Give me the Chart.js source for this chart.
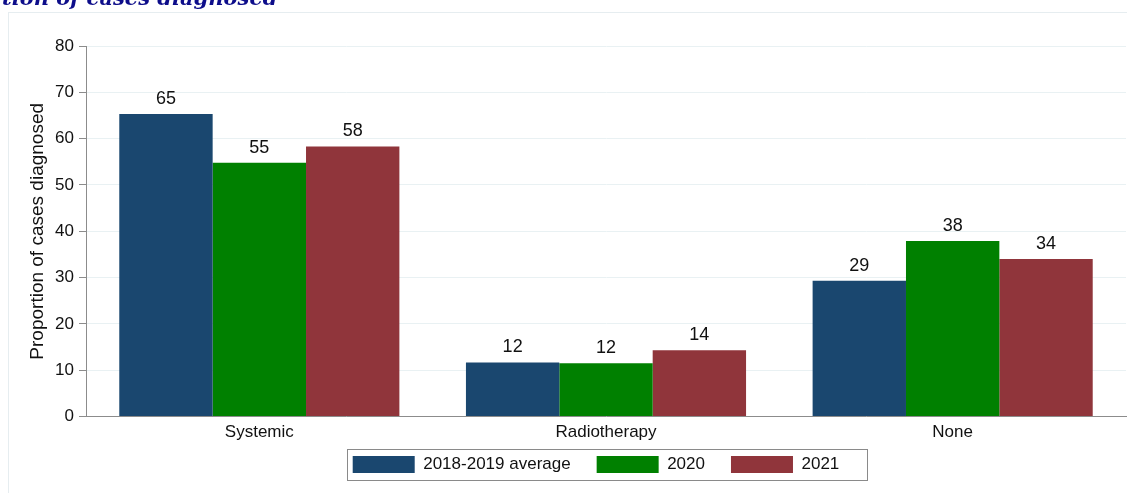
<!DOCTYPE html>
<html>
<head>
<meta charset="utf-8">
<script src="https://cdn.jsdelivr.net/npm/chart.js@4"></script>
<style>
  html, body { margin: 0; padding: 0; background: #fff; overflow: hidden; }
  #wrap { position: relative; width: 1127px; height: 493px; }
  #cut-title {
    position: absolute; left: 2px; top: -13px;
    font: italic bold 21px "DejaVu Serif", serif; line-height: 21px;
    color: #0d0d8a; white-space: nowrap;
  }
  canvas { position: absolute; left: 0; top: 0; }
</style>
</head>
<body>
<div id="wrap">
  <canvas id="graph" width="1127" height="493"></canvas>
  <div id="cut-title">tion of cases diagnosed</div>
</div>
<script>
// chart data
const categories = ['Systemic', 'Radiotherapy', 'None'];
const seriesNames = ['2018-2019 average', '2020', '2021'];
const avg1819 = [65.3, 11.7, 29.3];
const y2020 = [54.8, 11.5, 37.9];
const y2021 = [58.3, 14.3, 34.0];
const yTicks = [0, 10, 20, 30, 40, 50, 60, 70, 80];

const colors = ['#1a476f', '#008000', '#90353b'];
const font = 'Liberation Sans, Arial, sans-serif';
const legendPad = 26;

// light frame round the graph region
const framePlugin = {
  id: 'frame',
  beforeDraw(chart) {
    const ctx = chart.ctx;
    ctx.save();
    ctx.strokeStyle = '#e6edf0';
    ctx.lineWidth = 1;
    ctx.strokeRect(8.5, 12.5, 1300, 600);
    ctx.restore();
  }
};

// move legend up under the axis labels (and a bit left)
const legendShift = {
  id: 'legendShift',
  afterLayout(chart) {
    const lg = chart.legend;
    const dy = (456 - legendPad) - lg.top;
    const dx = -10;
    lg.top += dy;
    lg.bottom += dy;
    lg.left += dx;
    lg.right += dx;
    (lg.legendHitBoxes || []).forEach(h => { h.top += dy; h.left += dx; });
  }
};

// value labels over bars
const valueLabels = {
  id: 'valueLabels',
  afterDatasetsDraw(chart) {
    const ctx = chart.ctx;
    ctx.save();
    ctx.font = '18px ' + font;
    ctx.fillStyle = '#111';
    ctx.textAlign = 'center';
    ctx.textBaseline = 'bottom';
    chart.data.datasets.forEach(function (ds, i) {
      chart.getDatasetMeta(i).data.forEach(function (bar, j) {
        ctx.fillText(Math.round(ds.data[j]), bar.x, bar.y - 6);
      });
    });
    ctx.restore();
  }
};

// box round the legend
const legendBox = {
  id: 'legendBox',
  afterDraw(chart) {
    const lg = chart.legend;
    const hb = lg.legendHitBoxes;
    if (!hb || !hb.length) return;
    const last = hb[hb.length - 1];
    const left = hb[0].left - 6;
    const right = last.left + last.width + 27;
    const top = lg.top + legendPad - 7;
    const ctx = chart.ctx;
    ctx.save();
    ctx.strokeStyle = '#8a8a8a';
    ctx.lineWidth = 1;
    ctx.strokeRect(Math.round(left) + 0.5, Math.round(top) + 0.5, Math.round(right - left), 31);
    ctx.restore();
  }
};

const chart = new Chart(document.getElementById('graph'), {
  type: 'bar',
  data: {
    labels: categories,
    datasets: [
      { label: seriesNames[0], data: avg1819, backgroundColor: colors[0] },
      { label: seriesNames[1], data: y2020, backgroundColor: colors[1] },
      { label: seriesNames[2], data: y2021, backgroundColor: colors[2] }
    ]
  },
  options: {
    responsive: false,
    animation: false,
    events: [],
    layout: { padding: { top: 46, right: 1, bottom: -9, left: 0 } },
    datasets: {
      bar: { categoryPercentage: 0.808, barPercentage: 1.0, borderWidth: 0 }
    },
    scales: {
      x: {
        grid: { display: false, drawTicks: false },
        border: { color: '#8c8c8c', width: 1 },
        ticks: { color: '#111', font: { family: font, size: 17 }, padding: 6 }
      },
      y: {
        min: 0,
        max: 80,
        afterBuildTicks(scale) {
          scale.ticks = yTicks.map(v => ({ value: v }));
        },
        afterFit(scale) { scale.width = 86; },
        grid: { color: '#e9f1f3', tickColor: '#8c8c8c', tickLength: 7, lineWidth: 1 },
        border: { color: '#8c8c8c', width: 1 },
        ticks: { color: '#111', font: { family: font, size: 17 }, padding: 5 },
        title: {
          display: true,
          text: 'Proportion of cases diagnosed',
          color: '#111',
          font: { family: font, size: 19 },
          padding: { top: 26, bottom: 0 }
        }
      }
    },
    plugins: {
      legend: {
        position: 'bottom',
        fullSize: false,
        labels: {
          boxWidth: 62,
          boxHeight: 17,
          padding: legendPad,
          color: '#111',
          font: { family: font, size: 17 }
        }
      },
      tooltip: { enabled: false }
    }
  },
  plugins: [framePlugin, legendShift, valueLabels, legendBox]
});
</script>
</body>
</html>
